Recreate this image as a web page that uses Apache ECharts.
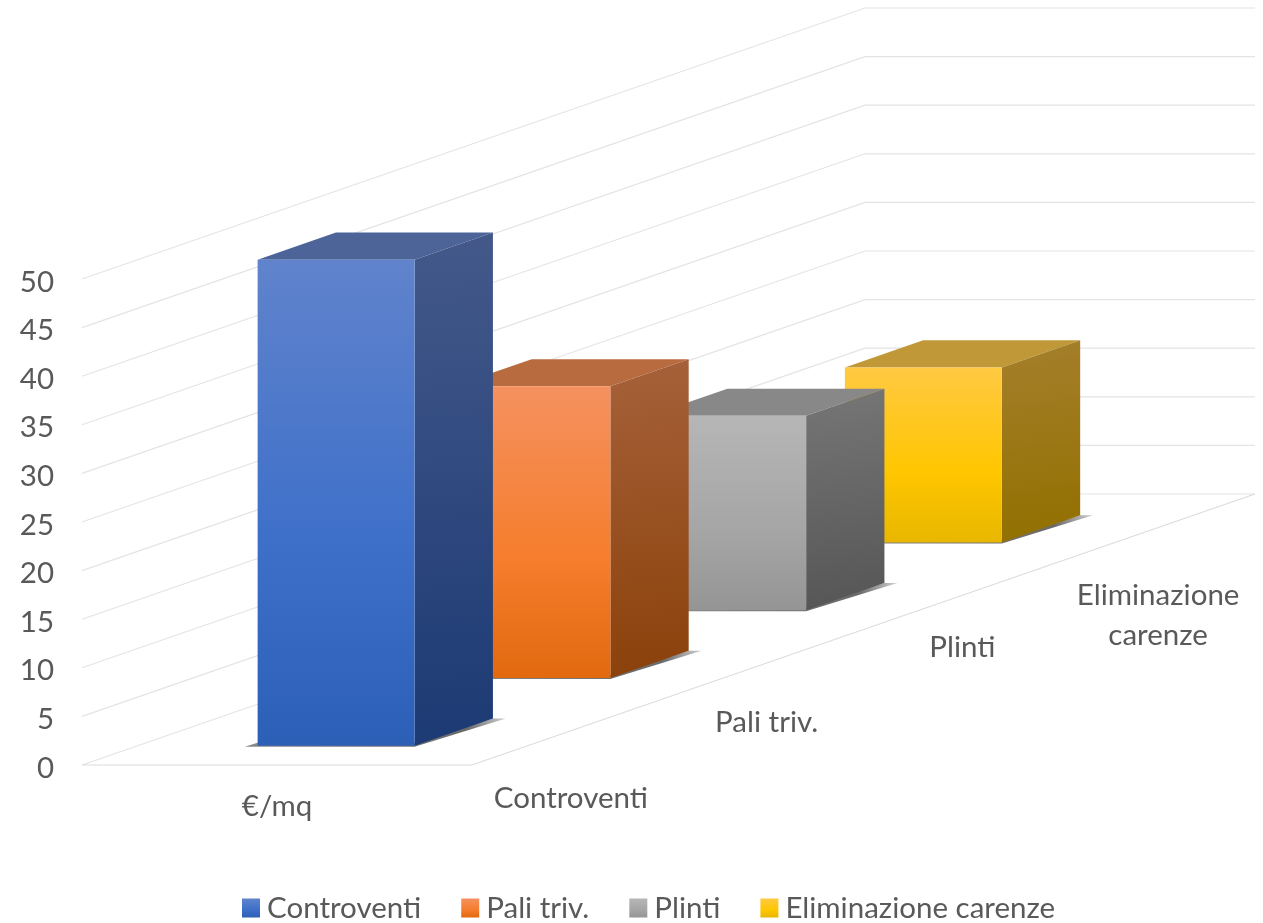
<!DOCTYPE html>
<html>
<head>
<meta charset="utf-8">
<style>html,body{margin:0;padding:0;background:#fff}#c{width:1263px;height:923px}</style>
<script src="https://cdn.jsdelivr.net/npm/echarts@6/dist/echarts.min.js"></script>
</head>
<body>
<div id="c"></div>
<script>
const groupLabels = ['€/mq'];
const seriesNames = ['Controventi', 'Pali triv.', 'Plinti', 'Eliminazione carenze'];
const seriesValues = [50, 30, 20, 18];
const valueTicks = [0, 5, 10, 15, 20, 25, 30, 35, 40, 45, 50];
const depthLabels = ['Controventi', 'Pali triv.', 'Plinti', 'Eliminazione\ncarenze'];

const depthLabelDrop = [67, 59, 52, 88];
const cellDepth = [195.75, -67.75];
const barStart = 0.3, barEnd = 0.7, barWidthRatio = 0.4026;
const barNudge = [0.4, 1];
const TEXT = '#595959';
const FONT = 'Lato';
const FS = 29.5;
const palette = [
  {front:['#6083cc','#3d6fc9','#2c5fb6'], side:['#44598a','#1c3a74'], top:'#4d6499'},
  {front:['#f5915f','#f57d2c','#e2690f'], side:['#a6613a','#8b410a'], top:'#b86b3f'},
  {front:['#b6b6b6','#a5a5a5','#959595'], side:['#767676','#565656'], top:'#888888'},
  {front:['#ffc942','#ffc600','#e8b700'], side:['#a57f2c','#927000'], top:'#c09838'}
];
function vGrad(c){return {type:'linear',x:0,y:0,x2:0,y2:1,colorStops:[{offset:0,color:c[0]},{offset:0.6,color:c[1]},{offset:1,color:c[2]}]};}
function dGrad(c){return {type:'linear',x:0,y:0,x2:0.35,y2:1,colorStops:[{offset:0,color:c[0]},{offset:1,color:c[1]}]};}
const shadowFill = {type:'linear',x:0,y:0,x2:1,y2:0,colorStops:[{offset:0,color:'#8a8a8a'},{offset:0.85,color:'#6a6a6a'},{offset:1,color:'#d0d0d0'}]};

function barRender(index){
  return function(params, api){
    const v = api.value(1);
    const base = api.coord([0, 0]);
    const top = api.coord([0, v]);
    const band = api.size([1, 0])[0];
    const w = band * barWidthRatio;
    const sx = (index + barStart) * cellDepth[0] + barNudge[0], sy = (index + barStart) * cellDepth[1] + barNudge[1];
    const dx = (barEnd - barStart) * cellDepth[0], dy = (barEnd - barStart) * cellDepth[1];
    const x0 = base[0] - w / 2 + sx, x1 = x0 + w;
    const yb = base[1] + sy, yt = top[1] + sy;
    const p = palette[index];
    return {type:'group', children:[
      {type:'polygon', shape:{points:[[x0-13,yb+1],[x0,yb-3],[x1,yb-3],[x1+dx,yb+dy],[x1+dx+13,yb+dy],[x1,yb+1]]},
        style:{fill:shadowFill}},
      {type:'polygon', shape:{points:[[x0,yt],[x1,yt],[x1+dx,yt+dy],[x0+dx,yt+dy]]}, style:{fill:p.top}},
      {type:'polygon', shape:{points:[[x1,yt],[x1+dx,yt+dy],[x1+dx,yb+dy],[x1,yb]]}, style:{fill:dGrad(p.side)}},
      {type:'rect', shape:{x:x0,y:yt,width:w,height:yb-yt}, style:{fill:vGrad(p.front)}}
    ]};
  };
}

function wallRender(params, api){
  const t = api.value(1);
  const c = api.coord([0, t]);
  const band = api.size([1, 0])[0];
  const n = seriesNames.length;
  const left = c[0] - band / 2, right = c[0] + band / 2;
  const d = [cellDepth[0] * n, cellDepth[1] * n];
  const children = [{type:'polyline',
    shape:{points:[[left,c[1]],[left+d[0],c[1]+d[1]],[right+d[0],c[1]+d[1]]]},
    style:{stroke:'#e4e4e4',lineWidth:1.2,fill:null}}];
  if (t === 0) {
    children.push({type:'polyline',
      shape:{points:[[left,c[1]],[right,c[1]],[right+d[0],c[1]+d[1]]]},
      style:{stroke:'#dcdcdc',lineWidth:1.2,fill:null}});
  }
  return {type:'group',children};
}

function labelRender(params, api){
  const i = params.dataIndex;
  const c = api.coord([0, 0]);
  const band = api.size([1, 0])[0];
  return {type:'text', x:c[0]+band/2+(i+0.5)*cellDepth[0]+1, y:c[1]+(i+0.5)*cellDepth[1]+depthLabelDrop[i],
    style:{text:depthLabels[i],fill:TEXT,font:FS+'px '+FONT,align:'center',verticalAlign:'middle',lineHeight:40}};
}

const chart = echarts.init(document.getElementById('c'), null, {renderer:'canvas'});
const option = {
  animation:false,
  backgroundColor:'#ffffff',
  textStyle:{fontFamily:FONT},
  grid:{left:82,width:390,top:279,height:486},
  legend:{
    data:seriesNames, left:237, bottom:-5, itemWidth:18, itemHeight:19, itemGap:40,
    icon:'rect', selectedMode:false,
    textStyle:{color:TEXT,fontSize:FS,fontFamily:FONT,padding:[0,0,0,2]}
  },
  xAxis:{type:'category',data:groupLabels,
    axisLine:{show:false},axisTick:{show:false},splitLine:{show:false},
    axisLabel:{color:TEXT,fontSize:FS,fontFamily:FONT,margin:26}},
  yAxis:{type:'value',min:0,max:50,interval:5,
    axisLine:{show:false},axisTick:{show:false},splitLine:{show:false},
    axisLabel:{margin:28,formatter:'{a|{value}}',
      rich:{a:{color:TEXT,fontSize:FS,fontFamily:FONT,padding:[6,0,0,0]}}}},
  series:[
    {type:'custom',name:'walls',z:1,silent:true,renderItem:wallRender,
      data:valueTicks.map(t=>[0,t]),encode:{x:0,y:1}},
    {type:'custom',name:'depthAxis',z:1,silent:true,renderItem:labelRender,
      data:depthLabels.map(()=>[0,0]),encode:{x:0,y:1}}
  ].concat(seriesNames.map((name,i)=>({
    type:'custom',name,z:10-i,renderItem:barRender(i),
    itemStyle:{color:vGrad(palette[i].front)},
    data:[[0,seriesValues[i]]],encode:{x:0,y:1}
  })))
};
chart.setOption(option);
</script>
</body>
</html>
